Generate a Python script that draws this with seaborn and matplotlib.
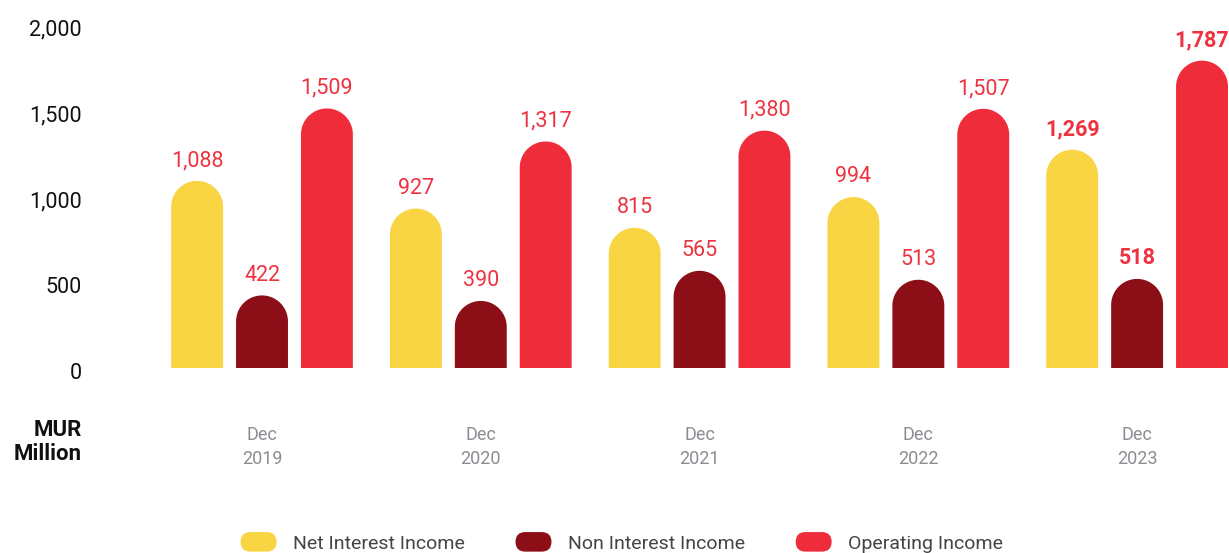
import matplotlib
matplotlib.use("Agg")
import matplotlib.pyplot as plt
import matplotlib.patches as mpatches
import matplotlib.transforms as mtransforms
from matplotlib.legend_handler import HandlerPatch
import numpy as np
import pandas as pd
import seaborn as sns

years = ["Dec\n2019", "Dec\n2020", "Dec\n2021", "Dec\n2022", "Dec\n2023"]
series = ["Net Interest Income", "Non Interest Income", "Operating Income"]
net_interest = [1088, 927, 815, 994, 1269]
non_interest = [422, 390, 565, 513, 518]
operating = [1509, 1317, 1380, 1507, 1787]
colors = ["#F9D443", "#8C0F17", "#EF2D3A"]
label_color = "#EE3340"

df = pd.DataFrame({
    "year": years * 3,
    "series": [s for s in series for _ in years],
    "value": net_interest + non_interest + operating,
})

sns.set_theme(style="white")
plt.rcParams["font.family"] = ["Roboto", "DejaVu Sans"]

fig = plt.figure(figsize=(12.29, 5.53), dpi=100)
ax = fig.add_axes([150 / 1229, 185 / 553, 1 - 150 / 1229, 344 / 553])

sns.barplot(data=df, x="year", y="value", hue="series", palette=colors,
            saturation=1, width=0.89, gap=0.2, legend=False, ax=ax)

ax.set_xlim(-0.512, 4.42)
ax.set_ylim(0, 2000)

# swap the flat bars for ones with a rounded top
bars = list(ax.patches)
px_per_y = (ax.transData.transform((0, 1000))[1] - ax.transData.transform((0, 0))[1]) / 1000
px_per_x = ax.transData.transform((1, 0))[0] - ax.transData.transform((0, 0))[0]
for i, p in enumerate(bars):
    x, w, h = p.get_x(), p.get_width(), p.get_height()
    fc = p.get_facecolor()
    p.remove()
    rx = w / 2
    ry = rx * px_per_x / px_per_y
    t = np.linspace(0, np.pi, 40)
    xs = np.concatenate([[x + w], x + rx + rx * np.cos(t), [x]])
    ys = np.concatenate([[0], h - ry + ry * np.sin(t), [0]])
    poly = mpatches.Polygon(np.column_stack([xs, ys]), closed=True,
                            facecolor=fc, edgecolor="none")
    ax.add_patch(poly)
    bold = (i % len(years)) == len(years) - 1
    ax.annotate(f"{h:,.0f}", (x + rx, h), xytext=(0, 7), textcoords="offset points",
                ha="center", va="bottom", fontsize=15.5, color=label_color,
                fontweight="bold" if bold else "normal")

sns.despine(ax=ax, left=True, bottom=True)
ax.set_xlabel("")
ax.set_ylabel("")
ax.set_yticks([0, 500, 1000, 1500, 2000])
ax.set_yticklabels(["0", "500", "1,000", "1,500", "2,000"])
ax.tick_params(axis="y", length=0, pad=49, labelsize=15.5, labelcolor="#111111")
ax.tick_params(axis="x", length=0, pad=42, labelsize=13, labelcolor="#8A8D92")
shift = mtransforms.ScaledTranslation(0, -3 / 100, fig.dpi_scale_trans)
for lab in ax.get_yticklabels():
    lab.set_transform(lab.get_transform() + shift)
for lab in ax.get_xticklabels():
    lab.set_linespacing(1.4)

fig.text(82 / 1229, 1 - 442 / 553, "MUR\nMillion", ha="right", va="center",
         fontsize=16, fontweight="bold", color="#111111", linespacing=1.1)


def make_pill(legend, orig_handle, xdescent, ydescent, width, height, fontsize):
    return mpatches.FancyBboxPatch((-xdescent, -ydescent - 1), width, height + 2,
                                   boxstyle=mpatches.BoxStyle("Round", pad=0, rounding_size=(height + 2) / 2))


handles = [mpatches.Patch(facecolor=c, edgecolor="none", label=s) for c, s in zip(colors, series)]
fig.legend(handles=handles, loc="center", bbox_to_anchor=(0.506, 1 - 543 / 553), ncol=3,
           frameon=False, handlelength=1.85, handleheight=0.95,
           handletextpad=0.85, columnspacing=2.6, labelcolor="#444444",
           prop={"size": 14},
           handler_map={mpatches.Patch: HandlerPatch(patch_func=make_pill)})

fig.savefig("out.png", dpi=100)
